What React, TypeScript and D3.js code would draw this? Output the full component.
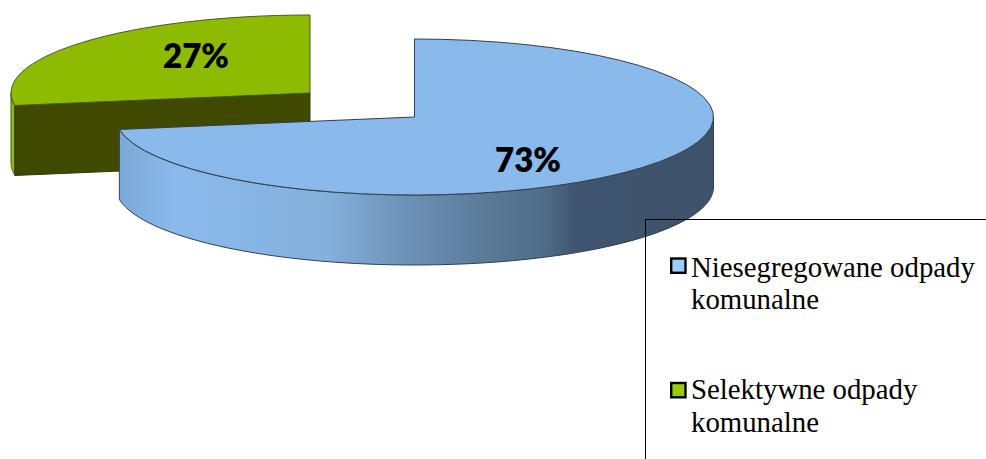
import * as d3 from "d3";

const categories = ["Niesegregowane odpady komunalne", "Selektywne odpady komunalne"];
const legendLines = [
  ["Niesegregowane odpady", "komunalne"],
  ["Selektywne odpady", "komunalne"],
];
const values = [73, 27];
const labels = ["73%", "27%"];

const width = 986;
const height = 459;

// flattened pie: each slice has its own centre because the green one is pulled out
const centers = [
  { x: 414.5, y: 117 },
  { x: 310, y: 93 },
];
const radii = [299, 299];
const ry = 78;
const depth = 70;
// the 3D view pushes the split between slices a little towards the viewer
const viewTilt = -0.035;

const topColors = ["#8ab9ec", "#8cbb00"];
const legendColors = ["#99ccff", "#99cc00"];
const labelPos = [
  { x: 528, y: 172 },
  { x: 196, y: 68 },
];
const legendY = [258.5, 383];
const legendBaselines = [
  [277, 309],
  [399, 432],
];

const pie = d3.pie<number>().sort(null);

// wall along the front of the ellipse, between angles a0 and a1 (0 = 12 o'clock, clockwise)
function wallPath(i: number, a0: number, a1: number) {
  const c = centers[i];
  const rx = radii[i];
  const x = d3.scaleLinear().domain([-1, 1]).range([c.x - rx, c.x + rx]);
  const y = d3.scaleLinear().domain([-1, 1]).range([c.y + ry, c.y - ry]);
  const angles = d3.range(0, 61).map((k) => a0 + ((a1 - a0) * k) / 60);
  const line = d3.line<number>().x((a) => x(Math.sin(a))).y((a) => y(Math.cos(a)));
  const top = line(angles) || "";
  const bottom = d3
    .line<number>()
    .x((a) => x(Math.sin(a)))
    .y((a) => y(Math.cos(a)) + depth)([...angles].reverse()) || "";
  return top + "L" + bottom.slice(1) + "Z";
}

function topPath(i: number, a0: number, a1: number) {
  return d3.arc()({ innerRadius: 0, outerRadius: radii[i], startAngle: a0, endAngle: a1 }) || "";
}

export default function App() {
  const slices = pie(values);
  const split = slices[0].endAngle + viewTilt;
  const end = slices[1].endAngle;
  const strokeColor = "#33404d";
  const gc = centers[1];
  const gx = gc.x + radii[1] * Math.sin(split);
  const gy = gc.y - ry * Math.cos(split);

  return (
    <svg
      width={width}
      height={height}
      viewBox={`0 0 ${width} ${height}`}
      style={{ position: "absolute", left: 0, top: 0, background: "#fff" }}
    >
      <defs>
        <linearGradient id="blueWall" gradientUnits="userSpaceOnUse" x1={119} x2={713} y1={0} y2={0}>
          <stop offset="0" stopColor="#7ba9d8" />
          <stop offset="0.1" stopColor="#8abaec" />
          <stop offset="0.35" stopColor="#84b0dc" />
          <stop offset="0.47" stopColor="#6f94ba" />
          <stop offset="0.6" stopColor="#5d7d9c" />
          <stop offset="0.72" stopColor="#4f6b87" />
          <stop offset="0.77" stopColor="#3f5570" />
          <stop offset="1" stopColor="#3e5268" />
        </linearGradient>
      </defs>

      {/* green slice */}
      <g>
        <path d={wallPath(1, split, Math.PI * 1.5)} fill="#8cbb00" stroke="#4a5a20" strokeWidth={1} />
        <path
          d={`M${gc.x},${gc.y}L${gx},${gy}v${depth}L${gc.x},${gc.y + depth}Z`}
          fill="#3f4a00"
          stroke="#2f3a10"
          strokeWidth={1}
        />
        <path
          d={topPath(1, split, end)}
          transform={`translate(${gc.x},${gc.y}) scale(1,${ry / radii[1]})`}
          fill={topColors[1]}
          stroke="#4a5a20"
          strokeWidth={1}
          vectorEffect="non-scaling-stroke"
        />
      </g>

      {/* blue slice */}
      <g>
        <path
          d={wallPath(0, Math.PI / 2, split)}
          fill="url(#blueWall)"
          stroke={strokeColor}
          strokeWidth={1}
        />
        <path
          d={topPath(0, slices[0].startAngle, split)}
          transform={`translate(${centers[0].x},${centers[0].y}) scale(1,${ry / radii[0]})`}
          fill={topColors[0]}
          stroke={strokeColor}
          strokeWidth={1}
          vectorEffect="non-scaling-stroke"
        />
      </g>

      {labels.map((t, i) => (
        <text
          key={t}
          x={labelPos[i].x}
          y={labelPos[i].y}
          textAnchor="middle"
          fontFamily="Lato, 'Open Sans', sans-serif"
          fontWeight={800}
          fontSize={33}
          fill="#000"
        >
          {t}
        </text>
      ))}

      {/* legend box runs off the page on the right and at the bottom */}
      <rect x={645.5} y={219.5} width={400} height={300} fill="none" stroke="#000" strokeWidth={1} />
      {categories.map((c, i) => (
        <g key={c}>
          <rect
            x={671.2}
            y={legendY[i]}
            width={14.3}
            height={14.3}
            fill={legendColors[i]}
            stroke="#000"
            strokeWidth={2.4}
          />
          {legendLines[i].map((l, j) => (
            <text
              key={j}
              x={691}
              y={legendBaselines[i][j]}
              fontFamily="'Liberation Serif', serif"
              fontSize={28.8}
              fill="#000"
            >
              {l}
            </text>
          ))}
        </g>
      ))}
    </svg>
  );
}
